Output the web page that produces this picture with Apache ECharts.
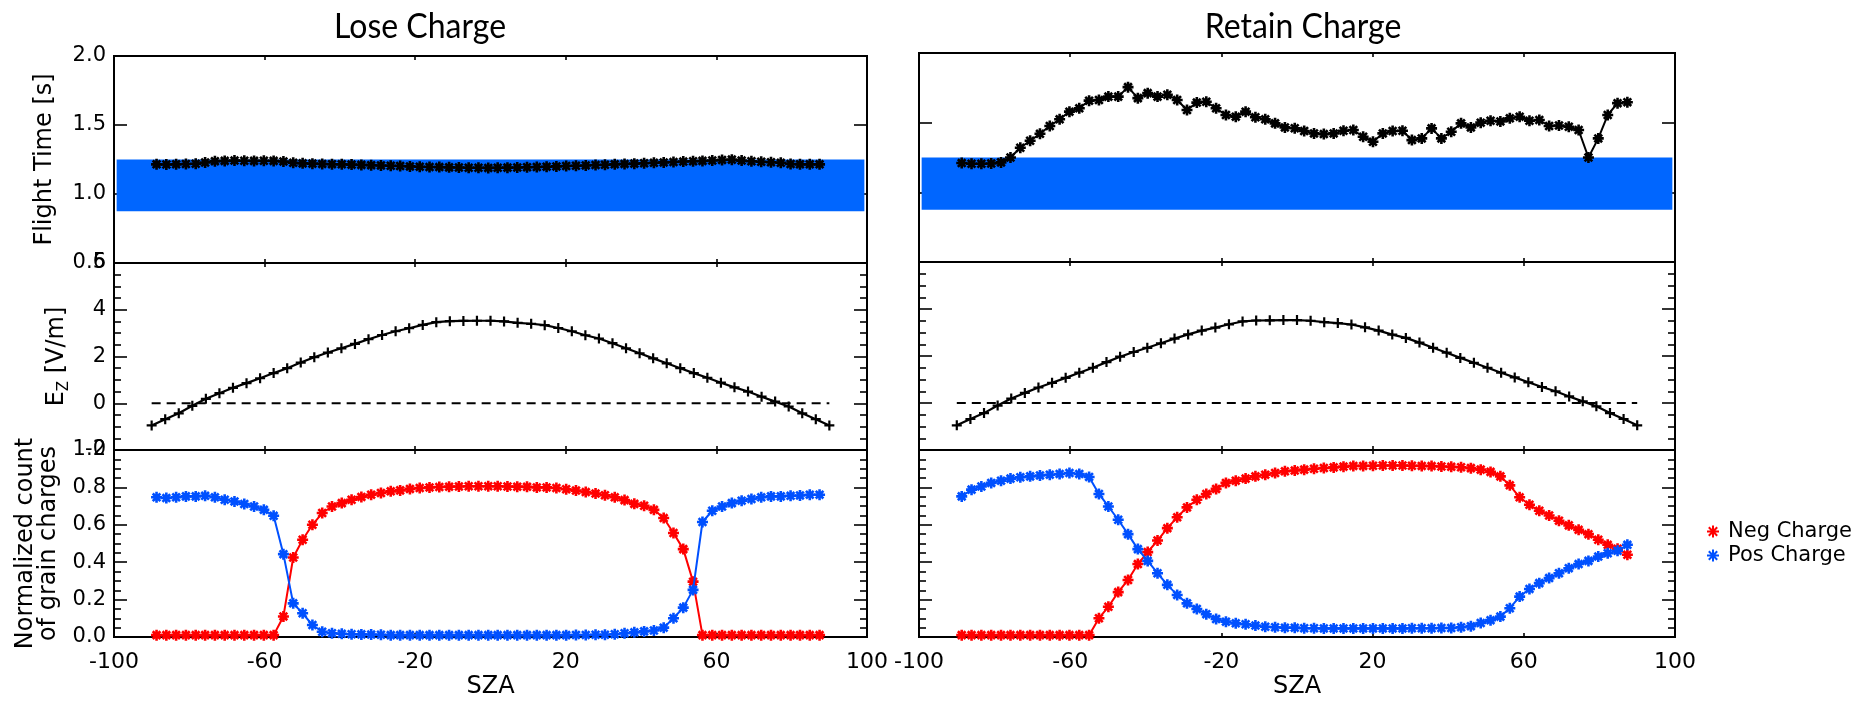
<!DOCTYPE html>
<html><head><meta charset="utf-8">
<script src="https://cdn.jsdelivr.net/npm/echarts/dist/echarts.min.js"></script>
<style>html,body{margin:0;padding:0;background:#fff}#c{width:1855px;height:702px}</style>
</head><body><div id="c"></div>
<script>
// ---------------- data ----------------
const panelTitles = ['Lose Charge', 'Retain Charge'];
const xTicks = [-100, -60, -20, 20, 60, 100];
const ftTicks = [0.5, 1.0, 1.5, 2.0];
const ezTicks = [-2, 0, 2, 4, 6];
const cntTicks = [0.0, 0.2, 0.4, 0.6, 0.8, 1.0];
const seriesNames = ['Neg Charge', 'Pos Charge'];

// SZA sample positions of the flight time / charge-count points
const sza = [-88.7,-86.1,-83.5,-80.9,-78.3,-75.8,-73.2,-70.6,-68.0,-65.4,-62.8,-60.2,-57.6,-55.0,-52.4,-49.9,-47.3,-44.7,-42.1,-39.5,
  -36.9,-34.3,-31.7,-29.1,-26.5,-24.0,-21.4,-18.8,-16.2,-13.6,-11.0,-8.4,-5.8,-3.2,-0.6,1.9,4.5,7.1,9.7,12.3,
  14.9,17.5,20.1,22.7,25.3,27.9,30.4,33.0,35.6,38.2,40.8,43.4,46.0,48.6,51.2,53.8,56.3,58.9,61.5,64.1,
  66.7,69.3,71.9,74.5,77.1,79.7,82.2,84.8,87.4];
// SZA sample positions of the E-field points
const ezSza = [-90,-86.4,-82.8,-79.2,-75.6,-72,-68.4,-64.8,-61.2,-57.6,-54,-50.4,-46.8,-43.2,-39.6,-36,-32.4,-28.8,-25.2,-21.6,
  -18,-14.4,-10.8,-7.2,-3.6,0,3.6,7.2,10.8,14.4,18,21.6,25.2,28.8,32.4,36,39.6,43.2,46.8,50.4,
  54,57.6,61.2,64.8,68.4,72,75.6,79.2,82.8,86.4,90];

const ftLose = [1.215,1.214,1.215,1.217,1.219,1.228,1.238,1.240,1.242,1.241,
  1.240,1.241,1.240,1.236,1.226,1.222,1.220,1.218,1.216,1.215,
  1.213,1.211,1.209,1.207,1.205,1.203,1.200,1.198,1.196,1.195,
  1.193,1.192,1.190,1.190,1.189,1.190,1.191,1.192,1.194,1.196,
  1.198,1.200,1.203,1.205,1.207,1.210,1.212,1.215,1.218,1.220,
  1.223,1.226,1.229,1.232,1.235,1.237,1.240,1.243,1.247,1.249,
  1.242,1.237,1.234,1.230,1.226,1.217,1.215,1.215,1.215];
const ftRetain = [1.21,1.205,1.205,1.207,1.215,1.25,1.32,1.37,1.42,1.476,
  1.524,1.579,1.603,1.658,1.663,1.687,1.687,1.755,1.676,1.712,
  1.687,1.70,1.663,1.591,1.644,1.65,1.603,1.555,1.543,1.579,
  1.539,1.524,1.495,1.466,1.46,1.44,1.423,1.418,1.423,1.442,
  1.447,1.399,1.363,1.423,1.44,1.442,1.375,1.387,1.459,1.387,
  1.435,1.495,1.466,1.50,1.514,1.509,1.531,1.543,1.514,1.519,
  1.476,1.48,1.471,1.447,1.25,1.387,1.555,1.64,1.647];
const ftBand = [0.875, 1.25];       // shaded flight-time range [s]
const ftBandSza = [-99.3, 99.3];

const ezField = [-0.95,-0.68,-0.43,-0.11,0.19,0.43,0.66,0.86,1.07,1.29,
  1.50,1.74,1.97,2.17,2.35,2.54,2.74,2.92,3.08,3.21,
  3.35,3.47,3.51,3.52,3.53,3.53,3.50,3.44,3.40,3.34,
  3.22,3.08,2.91,2.77,2.57,2.35,2.14,1.92,1.71,1.50,
  1.29,1.09,0.88,0.68,0.50,0.28,0.07,-0.14,-0.43,-0.68,-0.95];
const ezZeroSza = [-90, 90];

const negLose = [0.01,0.01,0.01,0.01,0.01,0.01,0.01,0.01,0.01,0.01,0.01,0.01,0.01,
  0.11,0.425,0.52,0.60,0.663,0.698,0.716,0.734,0.749,0.761,0.77,0.779,0.784,0.792,0.797,
  0.80,0.802,0.804,0.805,0.806,0.806,0.806,0.806,0.805,0.804,0.803,0.80,0.80,
  0.797,0.79,0.783,0.775,0.767,0.758,0.747,0.732,0.712,0.702,0.68,0.636,0.556,0.47,0.296,
  0.01,0.01,0.01,0.01,0.01,0.01,0.01,0.01,0.01,0.01,0.01,0.01,0.01];
const posLose = [0.747,0.743,0.747,0.752,0.752,0.755,0.747,0.734,0.725,0.711,0.698,0.68,0.648,0.443,0.18,0.127,0.064,0.028,0.02,
  0.017,0.015,0.014,0.013,0.012,0.01,0.01,0.01,0.01,0.01,0.01,0.01,0.01,0.01,0.01,0.01,0.01,0.01,0.01,0.01,0.01,0.01,0.01,0.01,0.011,0.011,0.012,
  0.012,0.015,0.02,0.025,0.03,0.035,0.05,0.10,0.157,0.252,0.615,0.675,0.698,0.716,0.729,0.738,0.747,0.752,0.752,0.755,0.757,0.761,0.761];
const negRetain = [0.01,0.01,0.01,0.01,0.01,0.01,0.01,0.01,0.01,0.01,0.01,0.01,0.01,0.01,
  0.10,0.162,0.24,0.305,0.39,0.454,0.516,0.582,0.64,0.693,0.734,0.765,0.792,0.824,0.836,0.847,0.859,0.868,0.877,0.886,0.89,0.895,0.90,0.904,0.907,0.911,0.915,
  0.915,0.916,0.917,0.917,0.917,0.916,0.915,0.914,0.912,0.91,0.908,0.903,
  0.895,0.883,0.859,0.811,0.747,0.707,0.675,0.65,0.622,0.597,0.573,0.55,0.52,0.493,0.472,0.44];
const posRetain = [0.752,0.788,0.805,0.824,0.836,0.847,0.854,0.859,0.864,0.868,0.872,0.877,0.872,0.856,0.765,0.698,0.627,0.55,0.47,0.407,
  0.341,0.279,0.225,0.18,0.15,0.122,0.096,0.082,0.073,0.068,0.061,0.055,0.052,0.05,0.05,0.047,0.047,0.046,0.046,0.046,0.046,
  0.046,0.046,0.046,0.046,0.046,0.047,0.047,0.047,0.048,0.048,0.052,0.058,0.075,0.09,0.109,0.154,0.216,0.257,0.288,0.315,0.341,0.368,0.39,0.407,0.43,0.448,0.461,0.493];

// ---------------- styling / layout ----------------
const FONT = 'DejaVu Sans';
const RED = '#ff0000', BLUE = '#0050ff', BAND = '#0066ff', BLACK = '#000000';
const ASTER = 'path://M5 0L5 10M0 5L10 5M1.5 1.5L8.5 8.5M1.5 8.5L8.5 1.5';
const PLUS = 'path://M5 0L5 10M0 5L10 5';
const cols = [{left: 114, width: 753}, {left: 919, width: 756}];
const rowsByCol = [
  [{top: 56, height: 207}, {top: 263, height: 187}, {top: 450, height: 187}],
  [{top: 53, height: 209}, {top: 262, height: 188}, {top: 450, height: 187}]
];
const yDefs = [
  {ticks: ftTicks, dec: 1, minor: false, name: 'Flight Time [s]', gap: 57, lh: 24},
  {ticks: ezTicks, dec: 0, minor: true, name: 'E{s|Z} [V/m]', gap: 42, lh: 30},
  {ticks: cntTicks, dec: 1, minor: true, name: 'Normalized count\nof grain charges', gap: 54, lh: 23}
];

const grids = [], xAxes = [], yAxes = [], series = [];
const pairs = (xs, ys) => xs.map((x, i) => [x, ys[i]]);

for (let c = 0; c < 2; c++) {
  for (let r = 0; r < 3; r++) {
    const g = grids.length;
    grids.push({left: cols[c].left, width: cols[c].width, top: rowsByCol[c][r].top, height: rowsByCol[c][r].height,
      show: true, borderColor: BLACK, borderWidth: 2, backgroundColor: 'transparent', containLabel: false, outerBoundsMode: 'none'});
    const xStep = xTicks[1] - xTicks[0];
    const isBottom = r === 2;
    ['bottom', 'top'].forEach((pos, k) => {
      xAxes.push({type: 'value', gridIndex: g, position: pos, min: xTicks[0], max: xTicks[xTicks.length - 1], interval: xStep,
        axisLine: {show: false, onZero: false}, splitLine: {show: false},
        axisTick: {show: true, inside: true, length: 4, lineStyle: {color: BLACK, width: 1.6}},
        axisLabel: {show: isBottom && k === 0, margin: 14, color: BLACK, fontFamily: FONT, fontSize: 22, showMinLabel: true, showMaxLabel: true},
        name: (isBottom && k === 0) ? 'SZA' : '', nameLocation: 'middle', nameGap: 38,
        nameTextStyle: {color: BLACK, fontFamily: FONT, fontSize: 24}
      });
    });
    const yd = yDefs[r];
    const t = yd.ticks;
    ['left', 'right'].forEach((pos, k) => {
      yAxes.push({type: 'value', gridIndex: g, position: pos, min: t[0], max: t[t.length - 1], interval: t[1] - t[0],
        axisLine: {show: false, onZero: false}, splitLine: {show: false},
        axisTick: {show: true, inside: true, length: 13, lineStyle: {color: BLACK, width: 1.6}},
        minorTick: {show: yd.minor, splitNumber: 4, length: 7, lineStyle: {color: BLACK, width: 1.6}},
        axisLabel: {show: c === 0 && k === 0, margin: 8, color: BLACK, fontFamily: FONT, fontSize: 21,
          showMinLabel: true, showMaxLabel: true,
          formatter: v => v.toFixed(yd.dec)},
        name: (c === 0 && k === 0) ? yd.name : '', nameLocation: 'middle', nameRotate: 90, nameGap: yd.gap,
        nameTextStyle: {color: BLACK, fontFamily: FONT, fontSize: 24, lineHeight: yd.lh, align: 'center',
          rich: {s: {fontFamily: FONT, fontSize: 15, color: BLACK, verticalAlign: 'bottom', lineHeight: 15}}}
      });
    });
  }
}

const ax = (c, r) => ({xAxisIndex: 2 * (c * 3 + r), yAxisIndex: 2 * (c * 3 + r)});
const symStyle = col => ({color: col, borderColor: col, borderWidth: 2.6});
const ftData = [ftLose, ftRetain];
const negData = [negLose, negRetain];
const posData = [posLose, posRetain];

for (let c = 0; c < 2; c++) {
  series.push(Object.assign({
    type: 'line', name: 'Flight time ' + panelTitles[c], data: pairs(sza, ftData[c]),
    symbol: ASTER, symbolSize: 11, showAllSymbol: true, itemStyle: symStyle(BLACK),
    lineStyle: {color: BLACK, width: 2}, z: 5, silent: true,
    markArea: {silent: true, itemStyle: {color: BAND, opacity: 1},
      data: [[{xAxis: ftBandSza[0], yAxis: ftBand[0]}, {xAxis: ftBandSza[1], yAxis: ftBand[1]}]]}
  }, ax(c, 0)));
  series.push(Object.assign({
    type: 'line', name: 'Ez zero ' + c, data: pairs(ezZeroSza, [0, 0]), symbol: 'none',
    lineStyle: {color: BLACK, width: 2, type: [9, 6]}, z: 3, silent: true
  }, ax(c, 1)));
  series.push(Object.assign({
    type: 'line', name: 'Ez ' + panelTitles[c], data: pairs(ezSza, ezField),
    symbol: PLUS, symbolSize: 10, showAllSymbol: true, itemStyle: {color: BLACK, borderColor: BLACK, borderWidth: 2.2},
    lineStyle: {color: BLACK, width: 2.2}, z: 5, silent: true
  }, ax(c, 1)));
  series.push(Object.assign({
    type: 'line', name: seriesNames[0], data: pairs(sza, negData[c]),
    symbol: ASTER, symbolSize: 11, showAllSymbol: true, itemStyle: symStyle(RED),
    lineStyle: {color: RED, width: 2}, z: 5, silent: true
  }, ax(c, 2)));
  series.push(Object.assign({
    type: 'line', name: seriesNames[1], data: pairs(sza, posData[c]),
    symbol: ASTER, symbolSize: 11, showAllSymbol: true, itemStyle: symStyle(BLUE),
    lineStyle: {color: BLUE, width: 2}, z: 6, silent: true
  }, ax(c, 2)));
}

const chart = echarts.init(document.getElementById('c'), null, {renderer: 'canvas', width: 1855, height: 702});
chart.setOption({
  animation: false,
  backgroundColor: '#ffffff',
  grid: grids, xAxis: xAxes, yAxis: yAxes, series: series,
  legend: {orient: 'vertical', left: 1701, top: 516, itemWidth: 12, itemHeight: 12, itemGap: 3,
    icon: ASTER, data: seriesNames, selectedMode: false,
    textStyle: {fontFamily: FONT, fontSize: 21, color: BLACK, lineHeight: 21, padding: [0, 0, 0, 4]}},
  graphic: [
    {type: 'text', x: 420, y: 27, scaleY: 1.1, style: {text: panelTitles[0], font: '32px Lato', fill: BLACK, align: 'center', verticalAlign: 'middle'}},
    {type: 'text', x: 1303, y: 27, scaleY: 1.1, style: {text: panelTitles[1], font: '32px Lato', fill: BLACK, align: 'center', verticalAlign: 'middle'}}
  ]
});
</script></body></html>
